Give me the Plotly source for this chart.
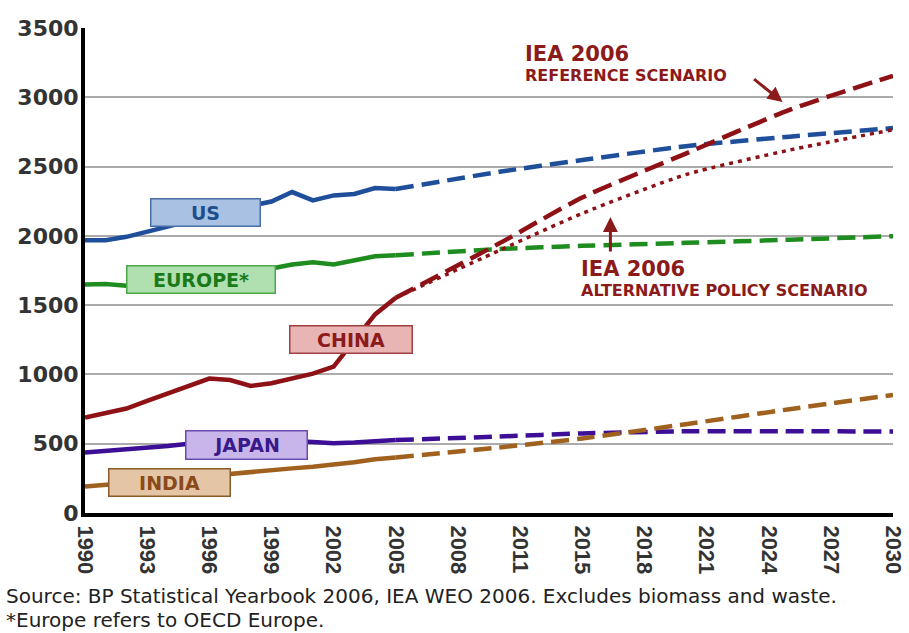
import plotly.graph_objects as go

# ---------------- data ----------------
categories = ["1990", "1991", "1992", "1993", "1994", "1995", "1996", "1997", "1998", "1999",
              "2000", "2001", "2002", "2003", "2004", "2005", "2006", "2007", "2008", "2009",
              "2010", "2011", "2013", "2014", "2015", "2016", "2017", "2018", "2019", "2020",
              "2021", "2022", "2023", "2024", "2025", "2026", "2027", "2028", "2029", "2030"]
tick_labels = ["1990", "1993", "1996", "1999", "2002", "2005", "2008", "2011",
               "2015", "2018", "2021", "2024", "2027", "2030"]
y_ticks = [0, 500, 1000, 1500, 2000, 2500, 3000, 3500]

hist_years = ["1990", "1991", "1992", "1993", "1994", "1995", "1996", "1997",
              "1998", "1999", "2000", "2001", "2002", "2003", "2004", "2005"]
proj_years = ["2005", "2010", "2015", "2020", "2025", "2030"]

us_hist = [1968, 1968, 1993, 2032, 2068, 2105, 2155, 2185, 2215, 2248, 2316, 2256, 2292, 2302, 2345, 2338]
europe_hist = [1649, 1652, 1640, 1655, 1670, 1690, 1720, 1735, 1750, 1765, 1793, 1809, 1793, 1824, 1853, 1860]
china_hist = [689, 725, 754, 809, 862, 922, 970, 960, 917, 936, 970, 1006, 1056, 1240, 1433, 1553]
japan_hist = [437, 449, 455, 466, 484, 500, 510, 515, 508, 515, 520, 513, 504, 509, 521, 526]
india_hist = [192, 203, 213, 225, 240, 255, 270, 284, 298, 312, 322, 334, 346, 366, 388, 400]

us_proj = [2338, 2462, 2547, 2647, 2716, 2778]
europe_proj = [1860, 1905, 1928, 1950, 1972, 1998]
china_ref = [1553, 1946, 2277, 2594, 2909, 3155]
china_alt = [1553, 1895, 2162, 2442, 2619, 2766]
japan_proj = [526, 552, 574, 590, 590, 588]
india_proj = [400, 473, 538, 641, 749, 852]

# ---------------- styles ----------------
C_US = "#1f4e9a"
C_EU = "#1e8c1e"
C_CN = "#8e1116"
C_JP = "#3c0f96"
C_IN = "#a0601e"
TXT_RED = "#8b1a1a"

fig = go.Figure()


def add_series(hist, proj, color, dash="18px,8px"):
    fig.add_trace(go.Scatter(x=hist_years, y=hist, mode="lines",
                             line=dict(color=color, width=4.5), hoverinfo="skip"))
    fig.add_trace(go.Scatter(x=proj_years, y=proj, mode="lines",
                             line=dict(color=color, width=4.5, dash=dash,
                                       shape="spline", smoothing=0.6),
                             hoverinfo="skip"))


add_series(japan_hist, japan_proj, C_JP)
add_series(india_hist, india_proj, C_IN)
add_series(europe_hist, europe_proj, C_EU)
add_series(us_hist, us_proj, C_US)
fig.add_trace(go.Scatter(x=proj_years, y=china_alt, mode="lines",
                         line=dict(color=C_CN, width=3.5, dash="4px,5px",
                                   shape="spline", smoothing=0.6),
                         hoverinfo="skip"))
add_series(china_hist, china_ref, C_CN, dash="20px,8px")

annotations = []


def label_box(text, x, y, w, h, fill, border, tcolor):
    annotations.append(dict(
        x=x, y=y, xref="x", yref="y", text=text, showarrow=False,
        width=w - 4, height=h - 4, bgcolor=fill, bordercolor=border,
        borderwidth=1.5, borderpad=1, xanchor="center", yanchor="middle",
        font=dict(family="DejaVu Sans", size=19, color=tcolor, weight="bold")))


label_box("US", 5.83, 2165, 110, 28, "#a9c1e3", "#4a6fa8", "#1f4e8c")
label_box("EUROPE*", 5.62, 1685, 149, 28, "#b0e0b0", "#4aa84a", "#1a7a1a")
label_box("CHINA", 12.86, 1249, 123, 28, "#e8b4b4", "#a04040", "#8b1a1a")
label_box("JAPAN", 7.80, 491, 122, 29, "#c8b6ea", "#6a4ab0", "#3a1a8a")
label_box("INDIA", 4.07, 220, 122, 28, "#e4c5a5", "#8a5a2a", "#8a4a1a")


def text_ann(text, x, y, size):
    annotations.append(dict(
        x=x, y=y, xref="x", yref="y", text=text, showarrow=False,
        xanchor="left", yanchor="middle",
        font=dict(family="DejaVu Sans", size=size, color=TXT_RED, weight="bold")))


text_ann("IEA 2006", 21.15, 3316, 21)
text_ann("REFERENCE SCENARIO", 21.15, 3159, 16)
text_ann("IEA 2006", 23.85, 1760, 21)
text_ann("ALTERNATIVE POLICY SCENARIO", 23.85, 1604, 16)

annotations.append(dict(x=33.67, y=2966, xref="x", yref="y", text="", showarrow=True,
                        ax=-30, ay=-24, arrowhead=2, arrowsize=1, arrowwidth=3,
                        arrowcolor=TXT_RED))
annotations.append(dict(x=25.36, y=2136, xref="x", yref="y", text="", showarrow=True,
                        ax=0, ay=36, arrowhead=2, arrowsize=1, arrowwidth=3,
                        arrowcolor=TXT_RED))

annotations.append(dict(
    x=-0.1, y=-0.172, xref="paper", yref="paper", showarrow=False,
    xanchor="left", yanchor="middle",
    text="Source: BP Statistical Yearbook 2006, IEA WEO 2006. Excludes biomass and waste.",
    font=dict(family="DejaVu Sans", size=20, color="#222")))
annotations.append(dict(
    x=-0.1, y=-0.2205, xref="paper", yref="paper", showarrow=False,
    xanchor="left", yanchor="middle",
    text="*Europe refers to OECD Europe.",
    font=dict(family="DejaVu Sans", size=20, color="#222")))

fig.update_layout(
    width=909, height=633,
    margin=dict(l=85, r=16, t=28, b=120, pad=0, autoexpand=False),
    paper_bgcolor="white", plot_bgcolor="white",
    showlegend=False,
    annotations=annotations,
    xaxis=dict(type="category", categoryorder="array", categoryarray=categories,
               range=[0, 39], tickmode="array", tickvals=tick_labels, ticktext=tick_labels,
               tickangle=90, ticks="", showgrid=False, zeroline=False, automargin=False,
               showline=True, linecolor="black", linewidth=4, ticklabelstandoff=4,
               tickfont=dict(family="Liberation Sans", size=22, color="#333", weight="bold")),
    yaxis=dict(range=[0, 3500], tickmode="array", tickvals=y_ticks, ticks="",
               showgrid=True, gridcolor="#ababab", gridwidth=2, zeroline=False, automargin=False,
               showline=True, linecolor="black", linewidth=4, ticklabelstandoff=-2,
               tickfont=dict(family="DejaVu Sans", size=22, color="#333", weight="bold")),
)

fig.write_html("out.html", config={"displayModeBar": False},
               post_script="document.body.style.margin='0';document.body.style.overflow='hidden';")
